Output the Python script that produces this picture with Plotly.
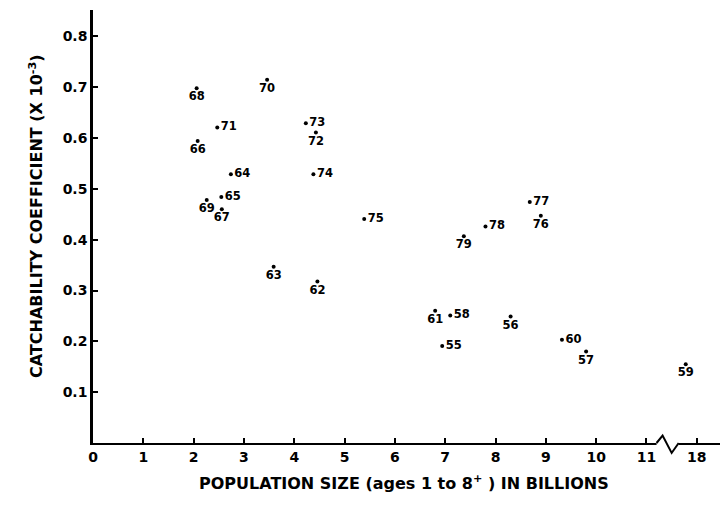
import plotly.graph_objects as go

# Data
years = ["55", "56", "57", "58", "59", "60", "61", "62", "63", "64", "65", "66", "67",
         "68", "69", "70", "71", "72", "73", "74", "75", "76", "77", "78", "79"]
population = [6.94, 8.30, 9.80, 7.10, 17.78, 9.32, 6.80, 4.46, 3.59, 2.74, 2.55, 2.08, 2.56,
              2.06, 2.26, 3.46, 2.47, 4.43, 4.23, 4.38, 5.39, 8.90, 8.68, 7.80, 7.37]
catchability = [0.191, 0.249, 0.180, 0.251, 0.155, 0.203, 0.260, 0.318, 0.347, 0.529, 0.484, 0.594, 0.460,
                0.698, 0.478, 0.715, 0.621, 0.611, 0.629, 0.529, 0.441, 0.447, 0.474, 0.426, 0.407]
label_side = ["right", "below", "below", "right", "below", "right", "below", "below", "below", "right",
              "right", "below", "below", "below", "below", "below", "right", "below", "right", "right",
              "right", "below", "right", "right", "below"]

tick_values = [0, 1, 2, 3, 4, 5, 6, 7, 8, 9, 10, 11, 18]
y_ticks = [0.1, 0.2, 0.3, 0.4, 0.5, 0.6, 0.7, 0.8]

BREAK_FROM = 11
BREAK_TO = 18
BREAK_SHIFT = BREAK_TO - (BREAK_FROM + 1)


def to_axis(v):
    return v if v <= BREAK_FROM + 0.5 else v - BREAK_SHIFT


xs = [to_axis(v) for v in population]
tick_pos = [to_axis(v) for v in tick_values]
positions = ["middle right" if s == "right" else "bottom center" for s in label_side]

FONT = "DejaVu Sans"

fig = go.Figure()
fig.add_trace(go.Scatter(
    x=xs, y=catchability, mode="markers+text",
    text=years, textposition=positions,
    textfont=dict(family=FONT, size=11.5, color="black", weight="bold"),
    marker=dict(color="black", size=4),
    cliponaxis=False, showlegend=False, hoverinfo="skip",
))

fig.update_layout(
    width=728, height=517,
    margin=dict(l=85, r=8, t=2, b=82),
    paper_bgcolor="white", plot_bgcolor="white",
    font=dict(family=FONT, color="black"),
    xaxis=dict(
        range=[0, 12.62], showgrid=False, zeroline=False,
        showline=True, linecolor="black", linewidth=2,
        ticks="inside", ticklen=5, tickwidth=1.5, tickcolor="black",
        tickvals=tick_pos, ticktext=[str(v) for v in tick_values],
        tickfont=dict(family=FONT, size=14, color="black", weight="bold"),
    ),
    yaxis=dict(
        range=[0, 0.852], showgrid=False, zeroline=False,
        showline=True, linecolor="black", linewidth=2.5,
        ticks="inside", ticklen=5, tickwidth=1.5, tickcolor="black",
        tickvals=y_ticks, ticktext=[f"{v:.1f}" for v in y_ticks],
        tickfont=dict(family=FONT, size=14, color="black", weight="bold"),
    ),
)

# axis break zigzag between 11 and 18
fig.add_shape(type="line", xref="x", yref="paper", x0=11.2, x1=11.64, y0=0, y1=0,
              line=dict(color="white", width=4), layer="above")
fig.add_shape(type="path", xref="x", yref="paper",
              path="M 11.2 0 L 11.32 0.017 L 11.5 -0.023 L 11.64 0",
              line=dict(color="black", width=2), layer="above")

fig.add_annotation(
    text="CATCHABILITY COEFFICIENT (X 10<sup>-3</sup>)",
    xref="paper", yref="paper", x=-0.09, y=0.524, textangle=-90,
    showarrow=False, xanchor="center", yanchor="middle",
    font=dict(family=FONT, size=16, color="black", weight="bold"),
)
fig.add_annotation(
    text="POPULATION SIZE (ages 1 to 8<sup>+</sup> ) IN BILLIONS",
    xref="paper", yref="paper", x=0.49, y=-0.092,
    showarrow=False, xanchor="center", yanchor="middle",
    font=dict(family=FONT, size=16, color="black", weight="bold"),
)

fig.write_html("out.html")
